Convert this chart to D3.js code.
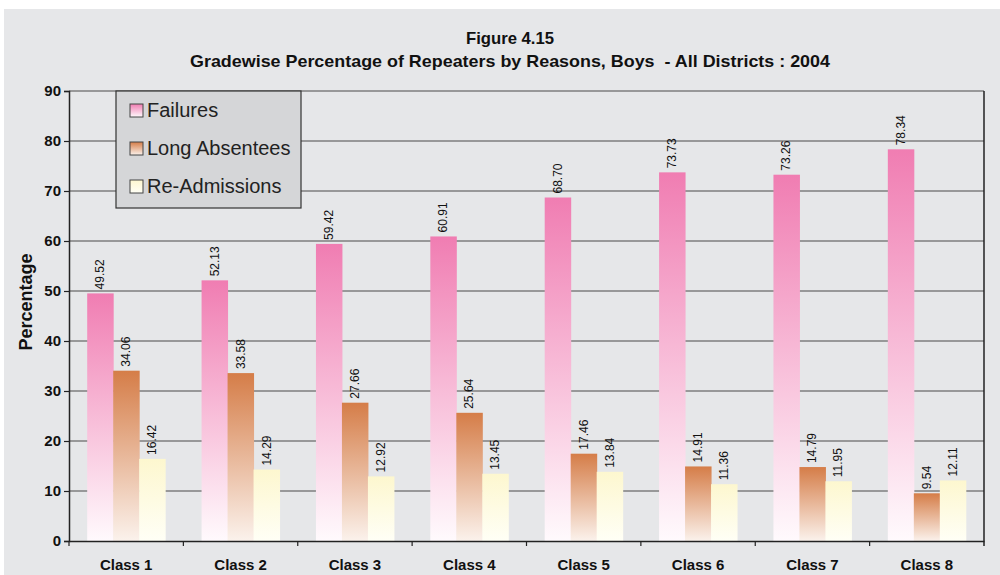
<!DOCTYPE html>
<html>
<head>
<meta charset="utf-8">
<script src="https://cdn.jsdelivr.net/npm/d3@7"></script>
<style>
  body { margin: 0; background: #fff; }
  svg { display: block; }
</style>
</head>
<body>
<svg id="chart" width="1000" height="575"></svg>
<script>
"use strict";

const classes = ["Class 1", "Class 2", "Class 3", "Class 4", "Class 5", "Class 6", "Class 7", "Class 8"];
const seriesNames = ["Failures", "Long Absentees", "Re-Admissions"];
const failures = [49.52, 52.13, 59.42, 60.91, 68.70, 73.73, 73.26, 78.34];
const absentees = [34.06, 33.58, 27.66, 25.64, 17.46, 14.91, 14.79, 9.54];
const readmissions = [16.42, 14.29, 12.92, 13.45, 13.84, 11.36, 11.95, 12.11];
const yTicks = [0, 10, 20, 30, 40, 50, 60, 70, 80, 90];

const narrow = "'Liberation Sans Narrow', 'Arial Narrow', 'Liberation Sans', sans-serif";
const sans = "'Liberation Sans', Arial, sans-serif";
const plotLeft = 69, plotRight = 984, plotTop = 91, plotBottom = 541;

// top and bottom colours of each bar gradient
const gradStops = [
    ["#f07db2", "#fffafd"],
    ["#d57d48", "#fbf2ec"],
    ["#fdf7cf", "#fffff6"]
];

const svg = d3.select("#chart");
svg.append("rect").attr("x", 4).attr("y", 9).attr("width", 996).attr("height", 566)
    .attr("fill", "#e6e7e9");

const defs = svg.append("defs");
gradStops.forEach(function(s, i) {
    let g = defs.append("linearGradient").attr("id", "grad" + i)
        .attr("x1", 0).attr("y1", 0).attr("x2", 0).attr("y2", 1);
    g.append("stop").attr("offset", "0%").attr("stop-color", s[0]);
    g.append("stop").attr("offset", "100%").attr("stop-color", s[1]);
});

const xScale = d3.scaleBand().domain(classes).range([plotLeft, plotRight]).paddingInner(0).paddingOuter(0);
const inner = d3.scaleBand().domain(seriesNames).range([0, xScale.bandwidth()]).paddingOuter(0.7).paddingInner(0);
const yScale = d3.scaleLinear().domain([0, 90]).range([plotBottom, plotTop]);

// title
svg.append("text").attr("x", 510).attr("y", 44).attr("text-anchor", "middle")
    .attr("textLength", 88).attr("lengthAdjust", "spacingAndGlyphs")
    .style("font-family", narrow).style("font-weight", "bold").style("font-size", "17px")
    .attr("fill", "#111").text("Figure 4.15");
svg.append("text").attr("x", 510).attr("y", 67).attr("text-anchor", "middle")
    .attr("textLength", 640).attr("lengthAdjust", "spacingAndGlyphs")
    .style("font-family", narrow).style("font-weight", "bold").style("font-size", "17px")
    .attr("fill", "#111").attr("xml:space", "preserve")
    .text("Gradewise Percentage of Repeaters by Reasons, Boys  - All Districts : 2004");

// gridlines
svg.append("g").selectAll("line").data(yTicks.slice(1))
    .join("line")
    .attr("x1", plotLeft).attr("x2", plotRight)
    .attr("y1", d => yScale(d)).attr("y2", d => yScale(d))
    .attr("stroke", "#4a4a4a").attr("stroke-width", 1.2);
svg.append("line").attr("x1", plotRight).attr("x2", plotRight)
    .attr("y1", plotTop).attr("y2", plotBottom + 5)
    .attr("stroke", "#222").attr("stroke-width", 1.5);

// bars
const data = classes.map((c, i) => ({cls: c, vals: [failures[i], absentees[i], readmissions[i]]}));
const groups = svg.append("g").selectAll("g").data(data).join("g")
    .attr("transform", d => "translate(" + xScale(d.cls) + ",0)");
groups.selectAll("rect")
    .data(d => d.vals.map((v, j) => ({name: seriesNames[j], j: j, v: v})))
    .join("rect")
    .attr("x", d => inner(d.name))
    .attr("width", inner.bandwidth() + 0.5)
    .attr("y", d => yScale(d.v))
    .attr("height", d => yScale(0) - yScale(d.v))
    .attr("fill", d => "url(#grad" + d.j + ")");
groups.selectAll("text")
    .data(d => d.vals.map((v, j) => ({name: seriesNames[j], v: v})))
    .join("text")
    .attr("transform", d => "translate(" + (inner(d.name) + inner.bandwidth() / 2 + 4) + "," + (yScale(d.v) - 4) + ") rotate(-90)")
    .style("font-family", narrow).style("font-size", "12px")
    .attr("fill", "#111")
    .text(d => d.v.toFixed(2));

// axes
const yAxis = d3.axisLeft(yScale).tickValues(yTicks).tickSize(5).tickFormat(d3.format("d"));
const gy = svg.append("g").attr("transform", "translate(" + plotLeft + ",0)").call(yAxis);
gy.select(".domain").attr("stroke", "#222").attr("stroke-width", 1.5);
gy.selectAll(".tick line").attr("stroke", "#222").attr("stroke-width", 1.2);
gy.selectAll(".tick text").attr("x", -8).attr("fill", "#111")
    .style("font-family", narrow).style("font-weight", "bold").style("font-size", "15px");

const xAxis = d3.axisBottom(xScale).tickSize(0).tickSizeOuter(0);
const gx = svg.append("g").attr("transform", "translate(0," + plotBottom + ")").call(xAxis);
gx.select(".domain").attr("stroke", "#222").attr("stroke-width", 1.5);
gx.selectAll(".tick text").attr("y", 29).attr("dy", 0).attr("fill", "#111")
    .style("font-family", sans).style("font-weight", "bold").style("font-size", "15px");
svg.append("g").selectAll("line").data(classes)
    .join("line")
    .attr("x1", d => xScale(d)).attr("x2", d => xScale(d))
    .attr("y1", plotBottom).attr("y2", plotBottom + 5)
    .attr("stroke", "#222").attr("stroke-width", 1.2);

// y title
svg.append("text").attr("transform", "translate(32,302) rotate(-90)")
    .attr("text-anchor", "middle")
    .style("font-family", sans).style("font-weight", "bold").style("font-size", "18px")
    .attr("fill", "#111").text("Percentage");

// legend
const legend = svg.append("g").attr("transform", "translate(116,91)");
legend.append("rect").attr("width", 185).attr("height", 117)
    .attr("fill", "#d5d6d8").attr("stroke", "#333").attr("stroke-width", 1.2);
const items = legend.selectAll("g").data(seriesNames).join("g")
    .attr("transform", (d, i) => "translate(14," + (19 + i * 38) + ")");
items.append("rect").attr("x", 0).attr("y", -6).attr("width", 13).attr("height", 13)
    .attr("fill", (d, i) => "url(#grad" + i + ")").attr("stroke", "#444").attr("stroke-width", 1);
items.append("text").attr("x", 17).attr("y", 7)
    .style("font-family", sans).style("font-size", "20px")
    .attr("fill", "#222").text(d => d);
</script>
</body>
</html>
